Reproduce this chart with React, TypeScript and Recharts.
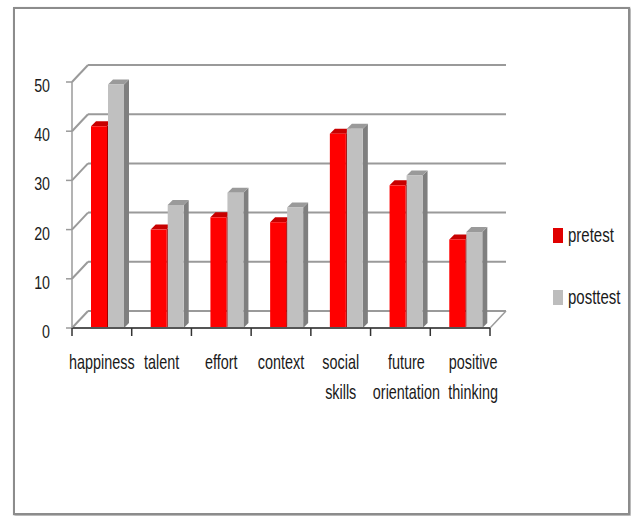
import { BarChart, Bar, XAxis, YAxis, CartesianGrid } from "recharts";

const categories = [
  "happiness",
  "talent",
  "effort",
  "context",
  "social skills",
  "future orientation",
  "positive thinking",
];
const pretest = [41, 20, 22.5, 21.5, 39.5, 29, 18];
const posttest = [49.5, 25, 27.5, 24.5, 40.5, 31, 19.5];
const yTicks = [0, 10, 20, 30, 40, 50];
const seriesNames = ["pretest", "posttest"];

const data = categories.map((name, i) => ({
  name,
  pretest: pretest[i],
  posttest: posttest[i],
}));

const W = 631;
const H = 516;
const MARGIN = { top: 82, right: 141, bottom: 108, left: 32 };
const Y_AXIS_W = 40;
const X_AXIS_H = 80;
const PLOT_LEFT = MARGIN.left + Y_AXIS_W;
const PLOT_W = W - PLOT_LEFT - MARGIN.right;
const PLOT_BOTTOM = H - MARGIN.bottom - X_AXIS_H;
const BAND = PLOT_W / categories.length;

// depth of the fake 3d box
const DX = 16;
const DY = 17;
const BAR_D = 5;
const BAR_SHIFT = 6;

const FONT = "'Liberation Sans', Arial, sans-serif";

function makeBar(front: string, top: string, side: string) {
  return (props: any) => {
    const { x, y, width, height } = props;
    if (!height) return <g />;
    const x0 = x + BAR_SHIFT;
    const x1 = x0 + width;
    const yb = y + height;
    return (
      <g>
        <polygon
          points={`${x1},${y} ${x1 + BAR_D},${y - BAR_D} ${x1 + BAR_D},${yb - BAR_D} ${x1},${yb}`}
          fill={side}
        />
        <polygon
          points={`${x0},${y} ${x0 + BAR_D},${y - BAR_D} ${x1 + BAR_D},${y - BAR_D} ${x1},${y}`}
          fill={top}
        />
        <rect x={x0} y={y} width={width} height={height} fill={front} />
      </g>
    );
  };
}

const RedBar = makeBar("#ff0000", "#c80000", "#a00000");
const GrayBar = makeBar("#c0c0c0", "#9a9a9a", "#7f7f7f");

function GridLine(props: any) {
  const { x1, y1, x2 } = props;
  const isFloor = Math.abs(y1 - PLOT_BOTTOM) < 1;
  return (
    <g key={props.key}>
      <line x1={x1} y1={y1} x2={x1 + DX} y2={y1 - DY} stroke="#9a9a9a" strokeWidth={2} />
      <line x1={x1 + DX} y1={y1 - DY} x2={x2 + DX} y2={y1 - DY} stroke="#9a9a9a" strokeWidth={2} />
      {isFloor && (
        <line x1={x2} y1={y1} x2={x2 + DX} y2={y1 - DY} stroke="#9a9a9a" strokeWidth={1.5} />
      )}
    </g>
  );
}

// the last two labels sit a little right of the band centre in the original
const LABEL_NUDGE = [0, 0, 0, 0, 0, 6, 13];

function XTick(props: any) {
  const { x, y, payload, index } = props;
  const lines = String(payload.value).split(" ");
  const last = index === categories.length - 1;
  const nudge = LABEL_NUDGE[index] || 0;
  return (
    <g>
      <line x1={x - BAND / 2} y1={y} x2={x - BAND / 2} y2={y + 8} stroke="#333" strokeWidth={1.5} />
      {last && <line x1={x + BAND / 2} y1={y} x2={x + BAND / 2} y2={y + 8} stroke="#333" strokeWidth={1.5} />}
      {lines.map((l, i) => (
        <text
          key={i}
          transform={`translate(${x + nudge},${y + 41 + i * 30}) scale(0.72,1)`}
          textAnchor="middle"
          fontSize={20}
          fontFamily={FONT}
          fill="#1a1a1a"
        >
          {l}
        </text>
      ))}
    </g>
  );
}

function YTick(props: any) {
  const { x, y, payload } = props;
  return (
    <text
      transform={`translate(${x - 14},${y + 10}) scale(0.75,1)`}
      textAnchor="end"
      fontSize={19}
      fontFamily={FONT}
      fill="#1a1a1a"
    >
      {payload.value}
    </text>
  );
}

export default function App() {
  const colors = ["#e00000", "#bdbdbd"];
  return (
    <div style={{ position: "absolute", left: 0, top: 0, width: W, height: H, background: "#fff" }}>
      <div
        style={{
          position: "absolute",
          left: 13,
          top: 7,
          width: 613,
          height: 504,
          border: "2px solid #8c8c8c",
          boxShadow: "1px 1px 2px #9a9a9a",
        }}
      />
      <BarChart
        width={W}
        height={H}
        data={data}
        margin={MARGIN}
        barGap={1}
        style={{ position: "absolute", left: 0, top: 0 }}
      >
        <CartesianGrid vertical={false} horizontal={(p: any) => <GridLine {...p} />} />
        <XAxis
          dataKey="name"
          height={X_AXIS_H}
          interval={0}
          tickLine={false}
          tickSize={0}
          tickMargin={0}
          axisLine={{ stroke: "#555", strokeWidth: 2 }}
          tick={<XTick />}
        />
        <YAxis
          width={Y_AXIS_W}
          domain={[0, 50]}
          ticks={yTicks}
          tickSize={6}
          axisLine={{ stroke: "#9a9a9a", strokeWidth: 1.5 }}
          tickLine={{ stroke: "#9a9a9a", strokeWidth: 1.5 }}
          tick={<YTick />}
        />
        <Bar dataKey="pretest" barSize={16} shape={RedBar} isAnimationActive={false} />
        <Bar dataKey="posttest" barSize={16} shape={GrayBar} isAnimationActive={false} />
      </BarChart>
      {seriesNames.map((n, i) => (
        <div
          key={n}
          style={{
            position: "absolute",
            left: 553,
            top: 224 + i * 62,
            display: "flex",
            alignItems: "center",
            fontFamily: FONT,
            fontSize: 20,
            color: "#1a1a1a",
          }}
        >
          <span style={{ width: 10, height: 15, background: colors[i], marginRight: 5 }} />
          <span style={{ display: "inline-block", transform: "scaleX(0.75)", transformOrigin: "left center" }}>
            {n}
          </span>
        </div>
      ))}
    </div>
  );
}
